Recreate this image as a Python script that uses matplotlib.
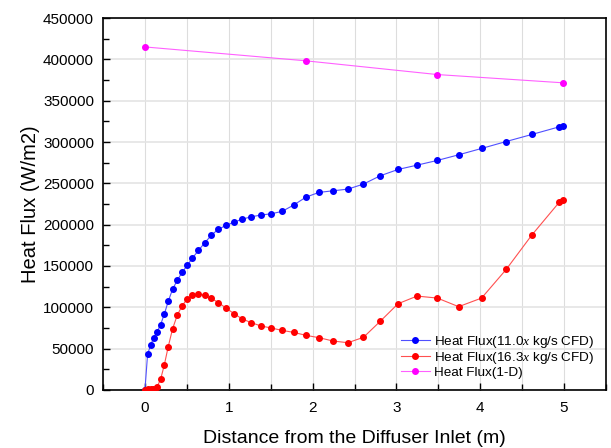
import matplotlib
matplotlib.use('Agg')
import matplotlib.pyplot as plt
from matplotlib.ticker import MultipleLocator

plt.rcParams['font.family'] = ['Liberation Sans', 'DejaVu Sans']
plt.rcParams['mathtext.fontset'] = 'custom'
plt.rcParams['mathtext.it'] = 'Liberation Serif:italic'

# distance (m) and heat flux (W/m2)
x_110 = [0.0, 0.032, 0.067, 0.103, 0.143, 0.187, 0.230, 0.278, 0.329, 0.385,
         0.444, 0.504, 0.567, 0.639, 0.714, 0.794, 0.877, 0.968, 1.063, 1.163,
         1.270, 1.385, 1.508, 1.635, 1.774, 1.921, 2.075, 2.246, 2.421, 2.607,
         2.806, 3.020, 3.246, 3.488, 3.742, 4.016, 4.310, 4.615, 4.944, 4.988]
q_110 = [0, 43500, 54000, 62900, 70100, 79000, 91500, 107200, 121700, 132600,
         142300, 150700, 159600, 168900, 178100, 187400, 194600, 199100, 203100, 206700,
         209600, 211600, 213200, 216000, 223700, 233300, 239000, 241000, 243000, 249100,
         259100, 266800, 272000, 277700, 284500, 292200, 300600, 309100, 318400, 319600]

x_163 = [0.0, 0.032, 0.067, 0.099, 0.143, 0.187, 0.230, 0.278, 0.329, 0.385,
         0.444, 0.504, 0.567, 0.639, 0.714, 0.794, 0.877, 0.968, 1.063, 1.163,
         1.270, 1.385, 1.508, 1.635, 1.774, 1.921, 2.075, 2.246, 2.421, 2.607,
         2.806, 3.020, 3.246, 3.488, 3.742, 4.016, 4.310, 4.615, 4.944, 4.988]
q_163 = [0, 1200, 1200, 1600, 3600, 12900, 29800, 52400, 73700, 90300,
         102000, 110000, 114500, 116100, 114500, 110800, 105600, 99100, 92300, 85800,
         81400, 77400, 75000, 72100, 69700, 66100, 63300, 59200, 57200, 63700,
         83000, 104400, 113600, 111200, 100800, 111200, 145900, 187400, 227300, 230100]

x_1d = [0.0, 1.921, 3.488, 4.988]
q_1d = [415000, 398200, 381600, 371600]

fig = plt.figure(figsize=(6.11, 4.48), dpi=100)
ax = fig.add_axes([0.1686, 0.1295, 0.8232, 0.8303])

ax.plot(x_110, q_110, color='#5050ff', lw=0.8, marker='o', ms=4,
        mfc='#0000ff', mec='#0000ff',
        label='Heat Flux(11.0$\\it{x}$ kg/s CFD)', zorder=3)
ax.plot(x_163, q_163, color='#ff5050', lw=0.8, marker='o', ms=4,
        mfc='#ff0000', mec='#ff0000',
        label='Heat Flux(16.3$\\it{x}$ kg/s CFD)', zorder=3)
ax.plot(x_1d, q_1d, color='#ff60ff', lw=0.8, marker='o', ms=4,
        mfc='#ff00ff', mec='#ff00ff',
        label='Heat Flux(1-D)', zorder=3)

ax.set_xlim(-0.5, 5.5)
ax.set_ylim(0, 450000)
ax.xaxis.set_major_locator(MultipleLocator(1))
ax.xaxis.set_minor_locator(MultipleLocator(0.5))
ax.yaxis.set_major_locator(MultipleLocator(50000))
ax.yaxis.set_minor_locator(MultipleLocator(25000))
ax.tick_params(which='both', direction='in', labelsize=11, width=1)
ax.tick_params(which='major', length=5)
ax.tick_params(which='minor', length=4)
ax.tick_params(axis='x', which='major', pad=8)
ax.tick_params(axis='y', which='major', pad=6.5)

ax.grid(True, which='major', axis='y', color='#e4e4e4', lw=1.2)
ax.grid(True, which='both', axis='x', color='#dddddd', lw=0.8)
ax.set_axisbelow(True)
for s in ax.spines.values():
    s.set_linewidth(1.2)

ax.set_xlabel('Distance from the Diffuser Inlet (m)', fontsize=14, labelpad=11)
ax.set_ylabel('Heat Flux (W/m2)', fontsize=14.5, labelpad=2)

ax.legend(loc='lower right', frameon=False, fontsize=9.7, handlelength=2.2,
          borderaxespad=0.45, labelspacing=0.0, handletextpad=0.3)

fig.savefig('out.png', dpi=100)
